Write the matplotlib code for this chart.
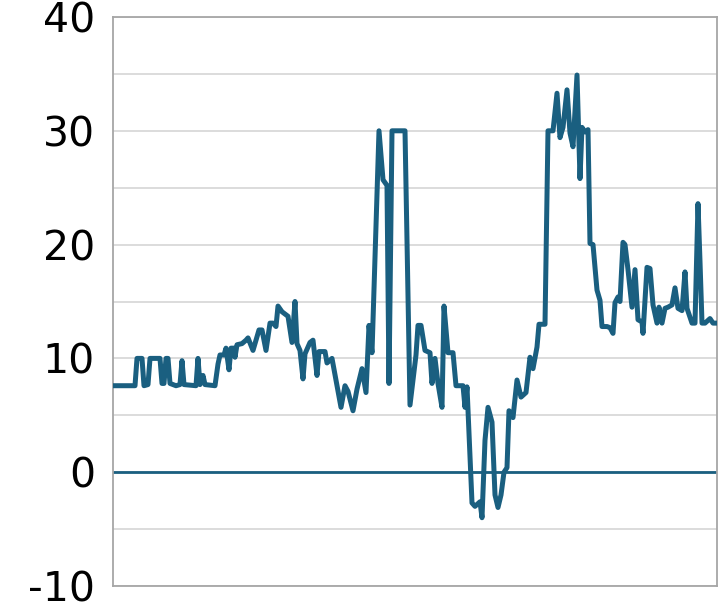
import matplotlib
matplotlib.use("Agg")
import matplotlib.pyplot as plt

# time index (arbitrary units) and values, 10 points per row
t = [0, 22, 24, 29, 31, 35, 37, 40, 47, 49,
     51, 53, 55, 57, 63, 67, 69, 71, 83, 85,
     87, 90, 92, 102, 105, 107, 111, 113, 116, 118,
     121, 122, 124, 129, 133, 135, 140, 146, 149, 153,
     157, 160, 163, 165, 169, 172, 175, 179, 182, 184,
     187, 190, 192, 197, 200, 204, 206, 212, 214, 219,
     224, 228, 232, 235, 240, 244, 249, 253, 256, 259,
     266, 270, 274, 276, 279, 292, 297, 303, 305, 308,
     312, 317, 319, 322, 325, 329, 331, 335, 340, 343,
     350, 352, 354, 359, 362, 367, 369, 372, 375, 379,
     382, 385, 388, 391, 394, 396, 400, 404, 408, 413,
     417, 420, 424, 426, 432, 435, 440, 444, 447, 450,
     454, 457, 460, 464, 467, 469, 472, 475, 477, 480,
     484, 487, 489, 494, 497, 500, 502, 505, 507, 510,
     512, 515, 519, 522, 525, 529, 530, 534, 537, 540,
     544, 546, 549, 552, 555, 559, 562, 565, 569, 572,
     574, 579, 582, 585, 587, 589, 592, 597, 600, 604]
v = [7.6, 7.6, 10.0, 10.0, 7.6, 7.7, 10.0, 10.0, 10.0, 7.8,
     7.8, 10.0, 10.0, 7.8, 7.6, 7.7, 9.8, 7.7, 7.6, 10.0,
     7.7, 8.5, 7.7, 7.6, 9.5, 10.3, 10.3, 10.9, 9.0, 10.9,
     10.9, 10.1, 11.2, 11.3, 11.6, 11.8, 10.7, 12.5, 12.5, 10.7,
     13.1, 13.1, 12.8, 14.6, 14.1, 13.9, 13.7, 11.4, 15.0, 11.3,
     10.7, 8.2, 10.4, 11.4, 11.6, 8.5, 10.6, 10.6, 9.6, 10.0,
     7.6, 5.7, 7.6, 7.1, 5.4, 7.3, 9.1, 7.0, 12.9, 10.5,
     30.0, 25.7, 25.2, 7.8, 30.0, 30.0, 5.9, 10.3, 12.9, 12.9,
     10.7, 10.5, 7.8, 10.0, 7.8, 5.7, 14.6, 10.5, 10.5, 7.6,
     7.6, 5.7, 7.5, -2.7, -3.0, -2.6, -4.0, 2.8, 5.7, 4.4,
     -2.0, -3.1, -2.0, 0.0, 0.4, 5.4, 4.8, 8.1, 6.6, 7.0,
     10.1, 9.1, 11.0, 13.0, 13.0, 30.0, 30.0, 33.3, 29.4, 30.3,
     33.6, 29.8, 28.6, 34.9, 25.8, 30.3, 29.9, 30.1, 20.1, 20.0,
     16.0, 15.1, 12.8, 12.8, 12.7, 12.2, 14.9, 15.4, 15.0, 20.2,
     20.0, 17.8, 14.5, 17.8, 13.4, 13.2, 12.2, 18.0, 17.9, 14.7,
     13.1, 14.5, 13.1, 14.4, 14.5, 14.7, 16.2, 14.4, 14.2, 17.6,
     14.4, 13.1, 13.1, 23.6, 18.5, 13.1, 13.1, 13.5, 13.1, 13.1]

y_ticks = [-10, 0, 10, 20, 30, 40]
y_grid = [-5, 5, 15, 25, 35]

line_color = "#1a5f80"

plt.rcParams["axes.unicode_minus"] = False
fig = plt.figure(figsize=(7.28, 6.02), dpi=100)
ax = fig.add_axes([113 / 728, 1 - 586 / 602, (717 - 113) / 728, (586 - 17) / 602])

for g in y_ticks + y_grid:
    ax.axhline(g, color="#d9d9d9", lw=1.3, zorder=1)
ax.axhline(0, color=line_color, lw=2.0, zorder=2)
ax.plot(t, v, color=line_color, lw=3.6, solid_joinstyle="round", solid_capstyle="round", zorder=3)

ax.set_xlim(min(t), max(t))
ax.set_ylim(-10, 40)
ax.set_yticks(y_ticks)
ax.set_yticklabels([str(y) for y in y_ticks])
ax.set_xticks([])
ax.tick_params(axis="y", length=0, pad=13, labelsize=29.5, labelcolor="#000000")
for s in ax.spines.values():
    s.set_color("#a6a6a6")
    s.set_linewidth(1.3)

fig.savefig("out.png", dpi=100)
